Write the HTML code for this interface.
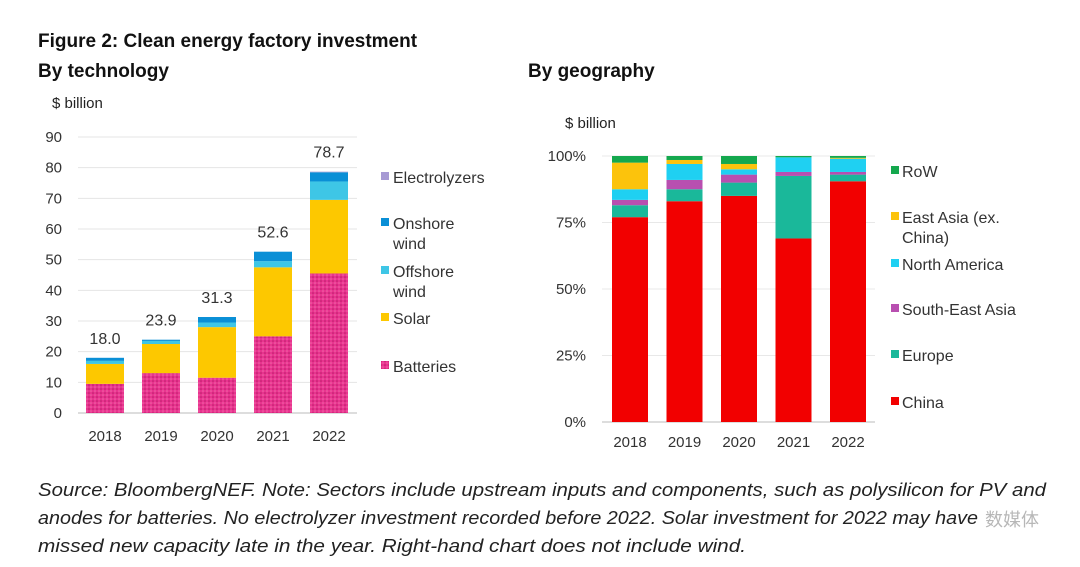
<!DOCTYPE html>
<html><head><meta charset="utf-8"><style>
body{margin:0;background:#fff;}
svg{display:block;font-family:"Liberation Sans",Arial,sans-serif;}
</style></head><body>
<svg id="s" width="1080" height="567" viewBox="0 0 1080 567">
<defs>
<pattern id="dots" width="4" height="4" patternUnits="userSpaceOnUse">
<rect width="4" height="4" fill="#e8348f"/><circle cx="1" cy="1" r="0.8" fill="#b81a66"/><circle cx="3" cy="3" r="0.8" fill="#f06aa8"/>
</pattern>
</defs>
<text x="38" y="47" font-size="19" font-weight="bold" fill="#111">Figure 2: Clean energy factory investment</text>
<text x="38" y="77" font-size="19" font-weight="bold" fill="#111">By technology</text>
<text x="528" y="77" font-size="19" font-weight="bold" fill="#111">By geography</text>
<text x="52" y="108" font-size="15" fill="#222">$ billion</text>
<text x="565" y="128" font-size="15" fill="#222">$ billion</text>
<g id="left"></g><g id="right"></g>
<g font-family="'Liberation Sans Narrow','Liberation Sans',sans-serif" font-style="italic" font-size="18" fill="#222">
<text x="38" y="496" textLength="1008" lengthAdjust="spacingAndGlyphs">Source: BloombergNEF. Note: Sectors include upstream inputs and components, such as polysilicon for PV and</text>
<text x="38" y="524" textLength="940" lengthAdjust="spacingAndGlyphs">anodes for batteries. No electrolyzer investment recorded before 2022. Solar investment for 2022 may have</text>
<text x="38" y="552" textLength="708" lengthAdjust="spacingAndGlyphs">missed new capacity late in the year. Right-hand chart does not include wind.</text>
</g>
<text x="985" y="526" font-size="18" fill="#999" opacity="0.7" font-family="'Liberation Sans','Noto Sans CJK SC',sans-serif">数媒体</text>
</svg>
<script>
const NS="http://www.w3.org/2000/svg";
function mk(p,tag,a,txt){const e=document.createElementNS(NS,tag);for(const k in a)e.setAttribute(k,a[k]);if(txt!==undefined)e.textContent=txt;p.appendChild(e);return e;}
const years=["2018","2019","2020","2021","2022"];
// left chart data ($bn)
const batteries=[9.5,13,11.5,25,45.5];
const solar=[6.5,9.5,16.5,22.5,24];
const offshore=[1,1,1.5,2,6];
const onshore=[1,0.4,1.8,3.1,3];
const electrolyzers=[0,0,0,0,0.2];
const totals=["18.0","23.9","31.3","52.6","78.7"];
const leftTicks=[0,10,20,30,40,50,60,70,80,90];
// right chart data (%)
const china=[77,83,85,69,90.5];
const europe=[4.5,4.5,5,23.5,2.5];
const sea=[2,3.5,3,1.5,1];
const na=[4,6,2,5.5,5];
const eastAsia=[10,1.5,2,0,0.3];
const row=[2.5,1.5,3,0.5,0.7];
const rightTicks=[0,25,50,75,100];

const L=document.getElementById('left');
const ly=v=>413-v*(276/90), lx=i=>105+i*56;
leftTicks.forEach(t=>{
 const g=mk(L,'line',{x1:78,x2:357,y1:ly(t),y2:ly(t),stroke:t?'#e4e4e4':'#bbb','stroke-width':1});
 
 const tx=mk(L,'text',{x:62,y:ly(t)+5,'font-size':15,'text-anchor':'end',fill:'#333'},t);
 
});
const lser=[[batteries,'url(#dots)','batteries'],[solar,'#fdc800','solar'],[offshore,'#3ec6e6','offshore-wind'],[onshore,'#0a8fd6','onshore-wind'],[electrolyzers,'#a79ad4','electrolyzers']];
years.forEach((y,i)=>{
 let acc=0;
 lser.forEach(([arr,c,n])=>{
  const v=arr[i];if(v<=0)return;
  const r=mk(L,'rect',{x:lx(i)-19,width:38,y:ly(acc+v),height:ly(acc)-ly(acc+v),fill:c});
  
  acc+=v;
 });
 const t=mk(L,'text',{x:lx(i),y:ly(acc)-14,'font-size':16,'text-anchor':'middle',fill:'#333'},totals[i]);
 
 const xt=mk(L,'text',{x:lx(i),y:441,'font-size':15,'text-anchor':'middle',fill:'#333'},y);
 
});
const lleg=[['Electrolyzers','#a79ad4',183],['Onshore','#0a8fd6',229,'wind'],['Offshore','#3ec6e6',277,'wind'],['Solar','#fdc800',324],['Batteries','url(#dots)',372]];
lleg.forEach(([n,c,y,l2])=>{
 const g=mk(L,'g',{});
 mk(g,'rect',{x:381,y:y-11,width:8,height:8,fill:c});
 mk(g,'text',{x:393,y:y,'font-size':16,fill:'#333'},n);
 if(l2)mk(g,'text',{x:393,y:y+20,'font-size':16,fill:'#333'},l2);
});

const R=document.getElementById('right');
const ry=v=>422-v*2.66, rx=i=>630+i*54.5;
rightTicks.forEach(t=>{
 const g=mk(R,'line',{x1:602,x2:875,y1:ry(t),y2:ry(t),stroke:t?'#e8e8e8':'#bbb','stroke-width':1});
 
 const tx=mk(R,'text',{x:586,y:ry(t)+5,'font-size':15,'text-anchor':'end',fill:'#333'},t+'%');
 
});
const rser=[[china,'#f20000','china'],[europe,'#1ab89a','europe'],[sea,'#b84fb0','south-east-asia'],[na,'#1fd0f2','north-america'],[eastAsia,'#fcc30c','east-asia'],[row,'#14a84e','row']];
years.forEach((y,i)=>{
 let acc=0;
 rser.forEach(([arr,c,n])=>{
  const v=arr[i];if(v<=0)return;
  const r=mk(R,'rect',{x:rx(i)-18,width:36,y:ry(acc+v),height:ry(acc)-ry(acc+v),fill:c});
  
  acc+=v;
 });
 const xt=mk(R,'text',{x:rx(i),y:447,'font-size':15,'text-anchor':'middle',fill:'#333'},y);
 
});
const rleg=[['RoW','#14a84e',177],['East Asia (ex.','#fcc30c',223,'China)'],['North America','#1fd0f2',270],['South-East Asia','#b84fb0',315],['Europe','#1ab89a',361],['China','#f20000',408]];
rleg.forEach(([n,c,y,l2])=>{
 const g=mk(R,'g',{});
 mk(g,'rect',{x:891,y:y-11,width:8,height:8,fill:c});
 mk(g,'text',{x:902,y:y,'font-size':16,fill:'#333'},n);
 if(l2)mk(g,'text',{x:902,y:y+20,'font-size':16,fill:'#333'},l2);
});
</script>
</body></html>
